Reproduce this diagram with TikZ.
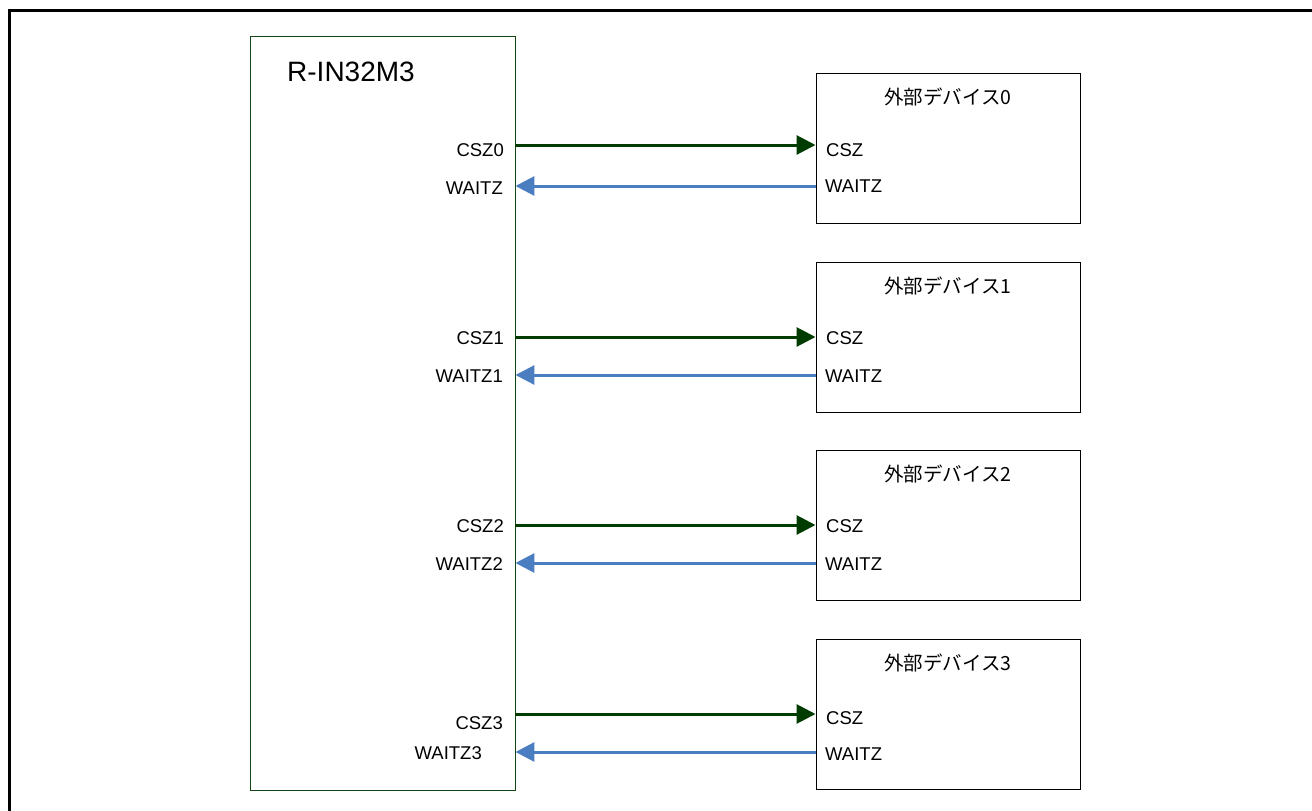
\documentclass[tikz,border=0pt]{standalone}
\usepackage{fontspec}
\setmainfont{Liberation Sans}
\newfontfamily\jpfont{Noto Sans CJK JP}
\usetikzlibrary{arrows.meta}
\definecolor{chipgreen}{RGB}{20,70,20}
\definecolor{csgreen}{RGB}{0,60,0}
\definecolor{waitblue}{RGB}{74,126,193}
\tikzset{
  frame/.style={line width=3pt, draw=black},
  chip/.style={draw=chipgreen, line width=0.9pt, rectangle, inner sep=0pt, minimum width=265pt, minimum height=754pt},
  devbox/.style={draw=black, line width=1pt, rectangle, inner sep=0pt, minimum width=264pt, minimum height=150pt},
  lbl/.style={inner sep=0pt, font=\fontsize{18.5}{20}\selectfont},
  title/.style={inner sep=0pt, font=\jpfont\fontsize{19.5}{21}\selectfont},
  csarrow/.style={draw=csgreen, line width=3pt, -{Triangle[length=19pt,width=19pt]}},
  waitarrow/.style={draw=waitblue, line width=3pt, -{Triangle[length=19pt,width=19pt]}},
}
\begin{document}
\begin{tikzpicture}[x=1pt,y=-1pt]
\useasboundingbox (0,0) rectangle (1312,811);
% outer frame
\draw[frame] (9.5,811) -- (9.5,10.5) -- (1312,10.5);
% chip
\node[chip] (chip) at (382.5,413) {};
\node[inner sep=0pt, anchor=base west, font=\fontsize{28}{30}\selectfont] (chipname) at (287,81) {R-IN32M3};
% devices
\foreach \i/\t in {0/73,1/262,2/450,3/639}{
  \node[devbox] (d\i) at (948,\t+75) {};
  \node[title] (t\i) at (948,\t+24) {外部デバイス\i};
}
% device pin labels
\node[lbl, anchor=base west] (d0cl) at (826,156) {CSZ};
\node[lbl, anchor=base west] (d0wl) at (825,192) {WAITZ};
\node[lbl, anchor=base west] (d1cl) at (826,344) {CSZ};
\node[lbl, anchor=base west] (d1wl) at (825,382) {WAITZ};
\node[lbl, anchor=base west] (d2cl) at (826,532) {CSZ};
\node[lbl, anchor=base west] (d2wl) at (825,570) {WAITZ};
\node[lbl, anchor=base west] (d3cl) at (826,724) {CSZ};
\node[lbl, anchor=base west] (d3wl) at (825,760) {WAITZ};
% chip pin labels
\node[lbl, anchor=base east] (c0cl) at (504,156) {CSZ0};
\node[lbl, anchor=base east] (c0wl) at (503,194) {WAITZ};
\node[lbl, anchor=base east] (c1cl) at (504,344) {CSZ1};
\node[lbl, anchor=base east] (c1wl) at (503,382) {WAITZ1};
\node[lbl, anchor=base east] (c2cl) at (504,532) {CSZ2};
\node[lbl, anchor=base east] (c2wl) at (503,570) {WAITZ2};
\node[lbl, anchor=base east] (c3cl) at (503,729) {CSZ3};
\node[lbl, anchor=base east] (c3wl) at (482,759) {WAITZ3};
% ports
\foreach \i/\c/\w in {0/145/186,1/337/375,2/525/563,3/714/752}{
  \coordinate (cc\i) at (chip.east |- 0,\c);
  \coordinate (cw\i) at (chip.east |- 0,\w);
  \coordinate (dc\i) at (d\i.west |- 0,\c);
  \coordinate (dw\i) at (d\i.west |- 0,\w);
  \draw[csarrow] (cc\i) -- (dc\i);
  \draw[waitarrow] (dw\i) -- (cw\i);
}
\end{tikzpicture}
\end{document}
